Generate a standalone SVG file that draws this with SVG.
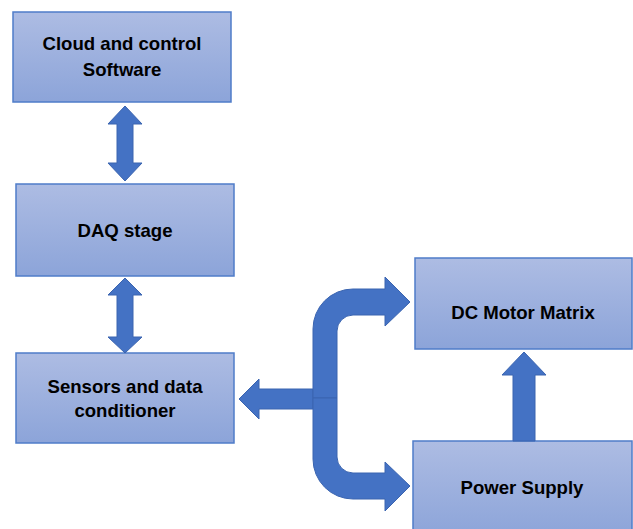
<svg xmlns="http://www.w3.org/2000/svg" width="633" height="529" viewBox="0 0 633 529">
  <defs>
    <linearGradient id="boxFill" x1="0" y1="0" x2="0" y2="1">
      <stop offset="0" stop-color="#adbce3"/>
      <stop offset="1" stop-color="#8ca4d9"/>
    </linearGradient>
    <style>
      .box { fill: url(#boxFill); stroke: #4f7cc9; stroke-width: 1.5; }
      .label { font-family: "Liberation Sans", Arial, sans-serif; font-weight: bold; font-size: 18.6px; fill: #000; text-anchor: middle; }
      .arrow { fill: #4472c4; stroke: #3a64b0; stroke-width: 1; stroke-linejoin: miter; }
    </style>
  </defs>
  <rect width="633" height="529" fill="#ffffff"/>

  <g id="cloud">
    <rect class="box" x="13" y="12" width="218" height="90"/>
    <text class="label" x="122" y="50">Cloud and control</text>
    <text class="label" x="122" y="76">Software</text>
  </g>

  <g id="daq">
    <rect class="box" x="16" y="184" width="218" height="92"/>
    <text class="label" x="125" y="237">DAQ stage</text>
  </g>

  <g id="sensors">
    <rect class="box" x="16" y="353" width="218" height="90"/>
    <text class="label" x="125" y="393">Sensors and data</text>
    <text class="label" x="125" y="417">conditioner</text>
  </g>

  <g id="motor">
    <rect class="box" x="415" y="258" width="217" height="91"/>
    <text class="label" x="523" y="319">DC Motor Matrix</text>
  </g>

  <g id="power">
    <rect class="box" x="413" y="441" width="219" height="96"/>
    <text class="label" x="522" y="494">Power Supply</text>
  </g>

  <g id="connectors">
    <!-- cloud <-> DAQ -->
    <path class="arrow" d="M125 106 L142 124 L133 124 L133 163 L142 163 L125 181 L108 163 L117 163 L117 124 L108 124 Z"/>
    <!-- DAQ <-> sensors -->
    <path class="arrow" d="M125 278 L142 295 L133 295 L133 337 L142 337 L125 353 L108 337 L117 337 L117 295 L108 295 Z"/>
    <!-- power -> motor -->
    <path class="arrow" d="M524 352 L546 375 L535 375 L535 441 L513 441 L513 375 L502 375 Z"/>
    <!-- split: to sensors -->
    <path class="arrow" d="M313 389 L259 389 L259 379 L239 399 L259 419 L259 409 L313 409 Z"/>
    <!-- split: upper branch to motor -->
    <path class="arrow" d="M313 398 L313 329 A40 40 0 0 1 353 289 L385 289 L385 277 L410 302 L385 326 L385 315 L353 315 A16 16 0 0 0 337 331 L337 398 Z"/>
    <!-- split: lower branch to power -->
    <path class="arrow" d="M313 398 L313 459 A40 40 0 0 0 353 499 L385 499 L385 511 L410 486 L385 462 L385 473 L353 473 A16 16 0 0 1 337 457 L337 398 Z"/>
  </g>
</svg>
